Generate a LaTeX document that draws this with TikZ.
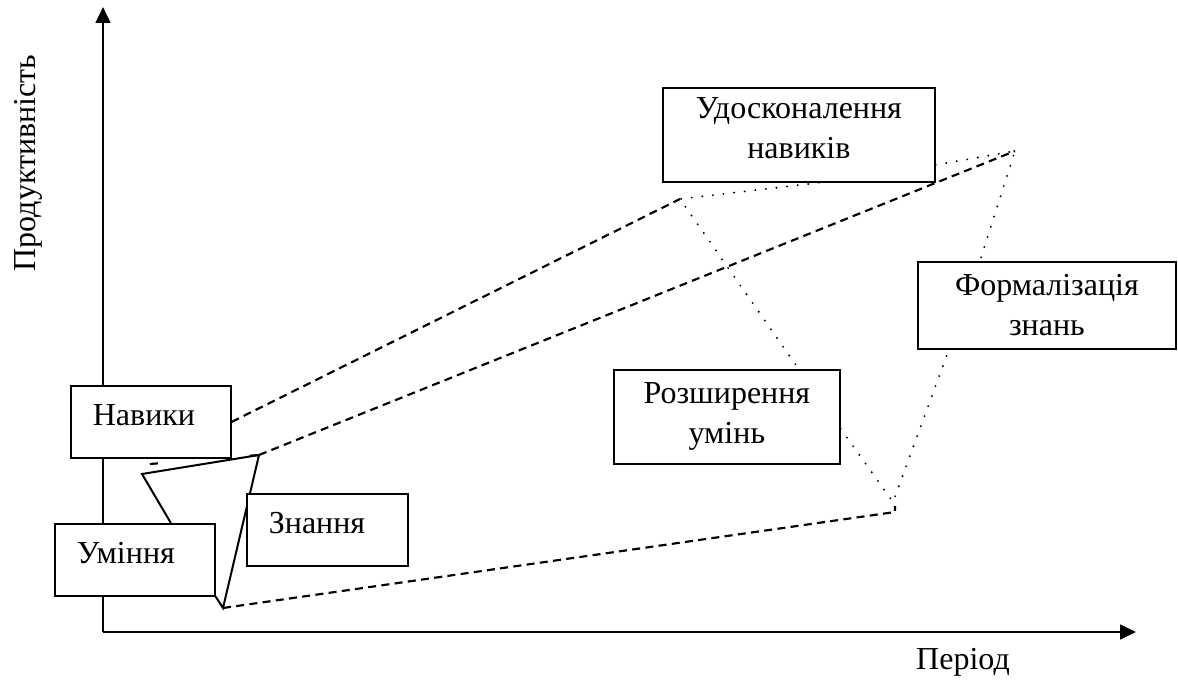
\documentclass[tikz,border=0pt]{standalone}
\usepackage{fontspec}
\setmainfont{Liberation Serif}
\usetikzlibrary{arrows.meta, calc}

\begin{document}
\begin{tikzpicture}[
    x=0.75pt, y=-0.75pt,
    box/.style={draw, fill=white, line width=1.3pt, inner sep=0pt,
        anchor=north west, font=\fontsize{24}{30}\selectfont},
    onebox/.style={box, align=left, inner xsep=16.5pt,
        text height=29.5pt, text depth=24.5pt},
    twobox/.style={box, align=center},
    axis/.style={line width=2pt, -{Triangle[length=12pt, width=11pt]}},
    hull/.style={line width=1.5pt, line join=miter},
    dashln/.style={line width=1.6pt, dash pattern=on 6pt off 4pt},
    dotln/.style={line width=1.6pt, line cap=round, dash pattern=on 0pt off 8pt},
    lbl/.style={font=\fontsize{24}{30}\selectfont},
]
\useasboundingbox (0,0) rectangle (1178,681);

% ---- axes ----
\coordinate (o) at (103,632);
\coordinate (ytip) at (103,7);
\coordinate (xtip) at (1136,632);
\draw[axis] (o) -- (ytip);
\draw[axis] (o) -- (xtip);

\node[lbl, rotate=90] (ylab) at (28,163) {Продуктивність};
\node[lbl] (xlab) at (963,662) {Період};

% ---- corner points of the figure ----
\coordinate (t1) at (142,474);
\coordinate (t2) at (259,455);
\coordinate (t3) at (223,608);
\coordinate (upv) at (680,199);
\coordinate (topv) at (1015,151);
\coordinate (botv) at (893,502);
\coordinate (dend) at (895,512);

% ---- boxes ----
\node[onebox, text width=87pt] (nav) at (70,385) {Навики};
\node[onebox, text width=87pt] (umin) at (54,523) {Уміння};
\node[twobox, minimum width=204pt, minimum height=70.5pt, text depth=10pt]
    (udos) at (662,87) {Удосконалення\\навиків};
\node[twobox, minimum width=169.5pt, minimum height=70.5pt] (rozsh)
    at (613,369) {Розширення\\умінь};
\node[twobox, minimum width=193.5pt, minimum height=65.25pt] (form)
    at (917,261) {Формалізація\\знань};

% ---- solid outline ----
\draw[hull] (umin.south east) -- (t3) -- (t2) -- (t1)
    -- ($(umin.north)+(36,0)$);

% ---- dashed lines ----
\draw[dashln] (nav.east) -- (upv);
\draw[dashln] (t2) -- (topv);
\draw[dashln] (t3) -- (dend) -- ++(0,-6);
\draw[line width=1.6pt, dash pattern=on 6pt off 69pt] (150,464) -- (t2);

% ---- dotted lines ----
\draw[dotln] ($(udos.south)+(20,0)$) -- (upv) -- ($(rozsh.north)+(69,-4)$);
\draw[dotln] ($(udos.east)+(0,30)$) -- (topv) -- ($(form.north)+(-67,0)$);
\draw[dotln] ($(rozsh.east)+(0,12)$) -- (botv) -- ($(form.south)+(-98,0)$);

% Znannya box sits over the outline
\node[onebox, text width=88pt] (znan) at (246,493) {Знання};

\end{tikzpicture}
\end{document}
